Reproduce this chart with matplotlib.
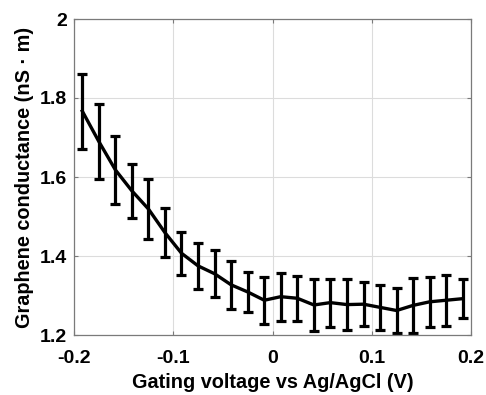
import matplotlib
matplotlib.use("Agg")
import matplotlib.pyplot as plt

# Gating voltage (V) and graphene conductance (nS·m) with error bars
tension = [-0.1917, -0.1750, -0.1583, -0.1417, -0.1250, -0.1083, -0.0917, -0.0750,
           -0.0583, -0.0417, -0.0250, -0.0083, 0.0083, 0.0250, 0.0417, 0.0583,
           0.0750, 0.0917, 0.1083, 0.1250, 0.1417, 0.1583, 0.1750, 0.1917]
conductance = [1.767, 1.690, 1.618, 1.565, 1.519, 1.459, 1.407, 1.375,
               1.355, 1.327, 1.309, 1.288, 1.297, 1.293, 1.276, 1.282,
               1.277, 1.278, 1.270, 1.262, 1.275, 1.284, 1.288, 1.292]
erreur = [0.095, 0.094, 0.087, 0.069, 0.075, 0.062, 0.055, 0.058,
          0.060, 0.060, 0.050, 0.059, 0.061, 0.057, 0.065, 0.061,
          0.065, 0.055, 0.057, 0.058, 0.070, 0.063, 0.064, 0.050]

xticks = [-0.2, -0.1, 0, 0.1, 0.2]
xlabels = ["-0.2", "-0.1", "0", "0.1", "0.2"]
yticks = [1.2, 1.4, 1.6, 1.8, 2.0]
ylabels = ["1.2", "1.4", "1.6", "1.8", "2"]

plt.rcParams["font.family"] = ["Liberation Sans", "DejaVu Sans"]
plt.rcParams["font.weight"] = "bold"

fig = plt.figure(figsize=(4.86, 3.95), dpi=100)
ax = fig.add_axes([74 / 486, 1 - 335 / 395, 397 / 486, 316 / 395])

ax.errorbar(tension, conductance, yerr=erreur, color="black",
            linewidth=2.4, elinewidth=2.3, capsize=3.5, capthick=2.3)

ax.set_xlim(-0.2, 0.2)
ax.set_ylim(1.2, 2.0)
ax.set_xticks(xticks)
ax.set_xticklabels(xlabels)
ax.set_yticks(yticks)
ax.set_yticklabels(ylabels)

ax.grid(True, color="#dcdcdc", linewidth=0.8)
ax.set_axisbelow(True)
for s in ax.spines.values():
    s.set_color("#7a7a7a")
    s.set_linewidth(0.9)
ax.tick_params(direction="in", top=True, right=True, length=3,
               color="#7a7a7a", labelsize=14)
ax.tick_params(axis="x", pad=11)
ax.tick_params(axis="y", pad=5)
for lab in ax.get_xticklabels() + ax.get_yticklabels():
    lab.set_fontweight("bold")

ax.set_xlabel("Gating voltage vs Ag/AgCl (V)", fontsize=14.3, fontweight="bold", labelpad=4)
ax.set_ylabel("Graphene conductance (nS \u00b7 m)", fontsize=14.3, fontweight="bold", labelpad=4)

fig.savefig("out.png", dpi=100)
